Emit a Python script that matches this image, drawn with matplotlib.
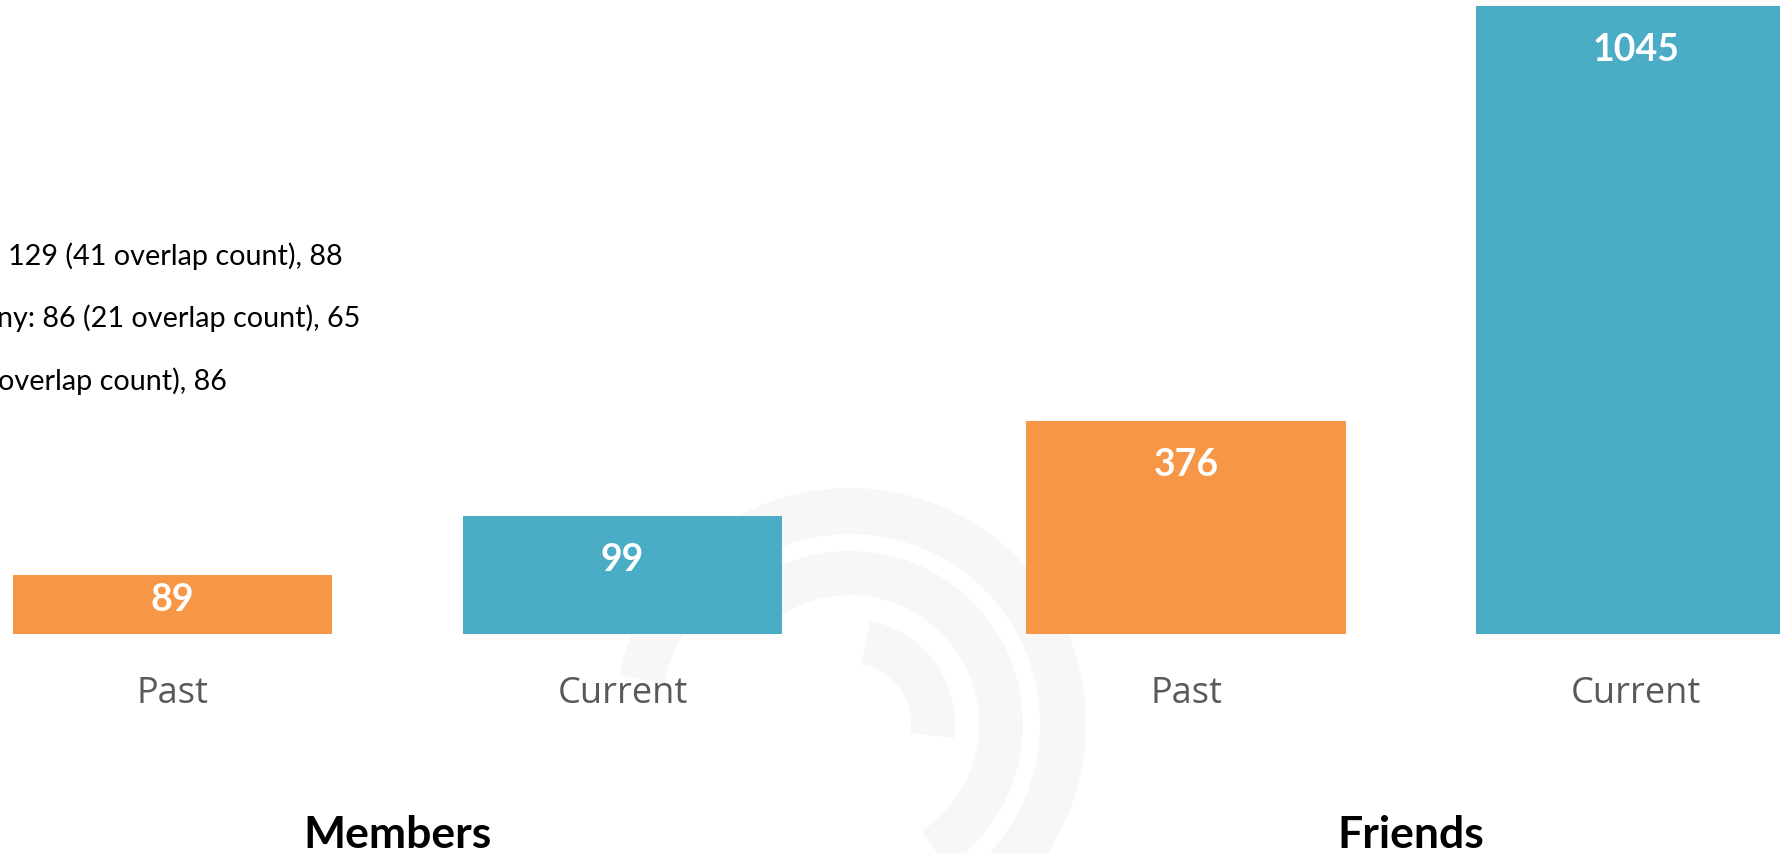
import matplotlib
matplotlib.use("Agg")
import matplotlib.pyplot as plt
from matplotlib.patches import Arc

plt.rcParams["font.family"] = ["Lato", "DejaVu Sans"]

# === DATA ===
groups = ["Members", "Friends"]
periods = ["Past", "Current"]
members_counts = [89, 99]
friends_counts = [376, 1045]
note_lines = [
    "129 (41 overlap count), 88",
    "ny: 86 (21 overlap count), 65",
    "overlap count), 86",
]

ORANGE = "#F79646"
BLUE = "#4BACC6"
TICK_GREY = "#595959"

W, H = 1780, 854
fig = plt.figure(figsize=(W / 100, H / 100), dpi=100)
fig.patch.set_facecolor("white")


def px_rect(left, top, width, height):
    return [left / W, (H - top - height) / H, width / W, height / H]


# faint watermark behind the bars
bg = fig.add_axes([0, 0, 1, 1], zorder=0)
bg.set_xlim(0, W)
bg.set_ylim(0, H)
bg.axis("off")
wm_center = (850, H - 725)
for r, thick, t1, t2 in [(213, 46, -70, 168), (151, 44, -56, 125), (83, 44, -8, 79)]:
    bg.add_patch(Arc(wm_center, 2 * r, 2 * r, theta1=t1, theta2=t2,
                     lw=thick * 0.72, color="#f7f7f7", capstyle="butt"))


def draw_group(rect, counts, ylim, name):
    ax = fig.add_axes(rect, zorder=1)
    ax.patch.set_alpha(0)
    ax.bar([0, 1], counts, width=0.711, color=[ORANGE, BLUE])
    ax.set_xlim(-0.5, 1.5)
    ax.set_ylim(*ylim)
    for s in ax.spines.values():
        s.set_visible(False)
    ax.set_yticks([])
    ax.set_xticks([0, 1], periods)
    ax.tick_params(axis="x", length=0, pad=49, labelsize=26, labelcolor=TICK_GREY)
    for t in ax.xaxis.get_major_ticks():
        t.label1.set_va("baseline")
        t.label1.set_family(["Open Sans", "DejaVu Sans"])
    # value labels inside the top of each bar
    for i, v in enumerate(counts):
        top = ax.transData.transform((i, v))[1]
        base = ax.transData.transform((i, ylim[0]))[1]
        off = min(43, 0.42 * (top - base))
        ax.annotate(str(v), xy=(i, v), xytext=(0, -off * 0.72), textcoords="offset points",
                    ha="center", va="center", color="white", fontsize=27, fontweight="bold")
    cx = (rect[0] + rect[2] / 2)
    fig.text(cx, 6 / H, name, ha="center", va="baseline", fontsize=32, fontweight="bold")
    return ax


draw_group(px_rect(-52.5, 0, 900, 634.6), members_counts, (79.0, 186.6), groups[0])
draw_group(px_rect(961, 0, 900, 634.6), friends_counts, (34.1, 1056.0), groups[1])

# clipped note text on the left
for (x, y), line in zip([(8, 265), (-3, 327), (-2, 390)], note_lines):
    fig.text(x / W, (H - y) / H, line, ha="left", va="baseline", fontsize=20.7, color="black")

fig.savefig("out.png", dpi=100)
